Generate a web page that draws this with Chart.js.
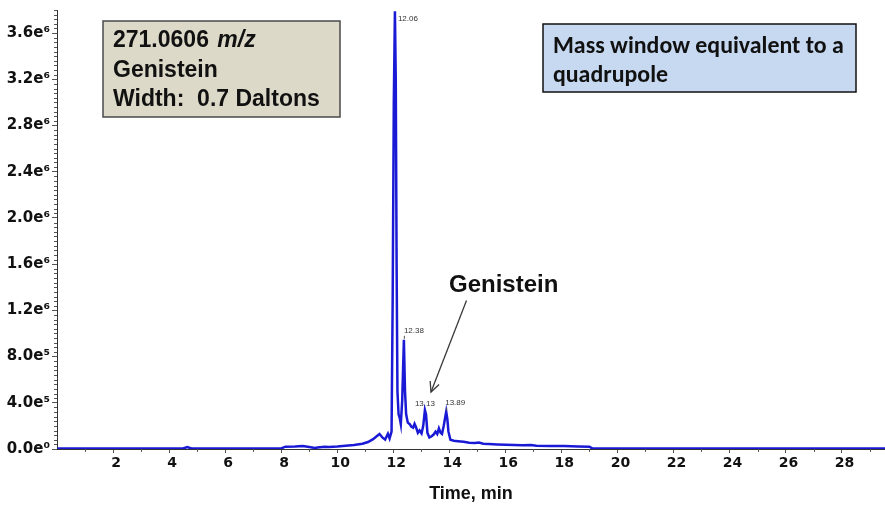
<!DOCTYPE html>
<html><head><meta charset="utf-8">
<script src="https://cdn.jsdelivr.net/npm/chart.js@4.4.1/dist/chart.umd.min.js"></script>
<style>html,body{margin:0;padding:0;background:#fff;}#wrap{width:885px;height:507px;}</style>
</head><body><div id="wrap"><canvas id="c" width="885" height="507"></canvas></div>
<script>
// ---- data ----
const timeMin = [0,1,2,3,4,4.5,4.65,4.8,5,6,7,8.0,8.15,8.5,8.77,9.0,9.2,9.3,9.55,9.7,10.0,10.3,10.6,10.9,11.1,11.28,11.41,11.51,11.62,11.71,11.81,11.87,11.94,11.98,12.02,12.06,12.09,12.12,12.15,12.19,12.23,12.27,12.32,12.38,12.42,12.46,12.52,12.59,12.64,12.71,12.76,12.81,12.88,12.94,13.01,13.07,13.13,13.17,13.22,13.29,13.37,13.44,13.51,13.57,13.63,13.69,13.74,13.8,13.89,13.93,13.97,14.04,14.16,14.31,14.51,14.71,14.91,15.06,15.21,15.41,15.71,16.01,16.31,16.61,16.91,17.11,17.6,18.1,18.6,19.0,19.1,20,22,24,26,28,29.55];
const intensity = [5000,5000,5000,5000,5000,5000,16000,5000,5000,5000,5000,5000,20000,22000,26000,18000,9000,12000,20000,18000,22000,28000,35000,45000,60000,85000,110000,130000,98000,82000,132000,92000,150000,1300000,3000000,3790000,3200000,1600000,500000,300000,270000,215000,420000,945000,500000,300000,228000,215000,195000,185000,218000,190000,140000,160000,135000,200000,337000,300000,140000,100000,110000,125000,150000,130000,178000,140000,130000,200000,323000,260000,150000,80000,72000,68000,62000,55000,52000,56000,46000,44000,40000,37000,35000,33000,34000,28000,26000,25000,22000,20000,5000,5000,5000,5000,5000,5000,5000];
const xTickValues = [2,4,6,8,10,12,14,16,18,20,22,24,26,28];
const xTickLabels = ['2','4','6','8','10','12','14','16','18','20','22','24','26','28'];
const yTickValues = [0,400000,800000,1200000,1600000,2000000,2400000,2800000,3200000,3600000];
const yTickLabels = ['0.0e\u2070','4.0e\u2075','8.0e\u2075','1.2e\u2076','1.6e\u2076','2.0e\u2076','2.4e\u2076','2.8e\u2076','3.2e\u2076','3.6e\u2076'];
const peakTimes = [12.06,12.38,13.13,13.89];
const peakValues = [3790000,945000,337000,323000];
const peakLabels = ['12.06','12.38','13.13','13.89'];
const xTitle = 'Time, min';
const infoLines = ['271.0606', 'Genistein', 'Width:  0.7 Daltons'];
const noteLines = ['Mass window equivalent to a', 'quadrupole'];
const calloutText = 'Genistein';

// label placement styles (pixel offsets relative to peak point)
const peakLabelStyle = [{dx:3,dy:8},{dx:0,dy:-9},{dx:-10,dy:-6},{dx:-1,dy:-9}];

const annotPlugin = {
  id: 'annot',
  afterDraw(chart) {
    const ctx = chart.ctx, xs = chart.scales.x, ys = chart.scales.y;
    const ca = chart.chartArea;
    ctx.save();
    // minor ticks
    ctx.strokeStyle = '#555'; ctx.lineWidth = 1;
    ctx.beginPath();
    for (let v = 0; v <= ys.max + 1; v += 40000) {
      if (Math.round(v) % 400000 === 0) continue;
      const y = Math.round(ys.getPixelForValue(v)) + 0.5;
      ctx.moveTo(ca.left - 3, y); ctx.lineTo(ca.left, y);
    }
    for (let t = 1; t < xs.max; t += 2) {
      const x = Math.round(xs.getPixelForValue(t)) + 0.5;
      ctx.moveTo(x, ca.bottom); ctx.lineTo(x, ca.bottom + 3);
    }
    ctx.stroke();

    // peak labels
    ctx.font = '8px "Liberation Sans", Arial, sans-serif';
    ctx.fillStyle = '#333'; ctx.textBaseline = 'middle'; ctx.textAlign = 'left';
    peakTimes.forEach((t, i) => {
      const px = xs.getPixelForValue(t), py = ys.getPixelForValue(peakValues[i]);
      const st = peakLabelStyle[i];
      ctx.fillText(peakLabels[i], px + st.dx, py + st.dy);
      if (i === 1 || i === 3) {
        ctx.beginPath(); ctx.moveTo(px + 0.5, py - 4); ctx.lineTo(px + 0.5, py - 1); ctx.stroke();
      }
    });

    // info box
    ctx.fillStyle = '#dcd9c8';
    ctx.fillRect(103, 21, 237, 96);
    ctx.strokeStyle = '#4a4a4a'; ctx.lineWidth = 1.5;
    ctx.strokeRect(103, 21, 237, 96);
    ctx.fillStyle = '#111'; ctx.textBaseline = 'alphabetic';
    ctx.font = 'bold 23px "Liberation Sans", Arimo, Arial, sans-serif';
    ctx.fillText(infoLines[0], 113, 47);
    const w0 = ctx.measureText(infoLines[0] + ' ').width;
    ctx.font = 'italic bold 23px "Liberation Sans", Arimo, Arial, sans-serif';
    ctx.fillText('m/z', 113 + w0 + 2, 47);
    ctx.font = 'bold 23px "Liberation Sans", Arimo, Arial, sans-serif';
    ctx.fillText(infoLines[1], 113, 76.5);
    ctx.fillText(infoLines[2], 113, 106);

    // note box
    ctx.fillStyle = '#c6d9f1';
    ctx.fillRect(543, 24, 313, 68);
    ctx.strokeStyle = '#111'; ctx.lineWidth = 1.5;
    ctx.strokeRect(543, 24, 313, 68);
    ctx.fillStyle = '#111';
    let fs = 20;
    ctx.font = 'bold ' + fs + 'px Carlito, Lato, "Open Sans", sans-serif';
    const mw = ctx.measureText(noteLines[0]).width;
    fs = fs * 291 / mw;
    ctx.font = 'bold ' + fs.toFixed(2) + 'px Carlito, Lato, "Open Sans", sans-serif';
    ctx.fillText(noteLines[0], 553, 53);
    ctx.fillText(noteLines[1], 553, 82);

    // callout
    ctx.font = 'bold 24px "Liberation Sans", Arimo, Arial, sans-serif';
    ctx.fillStyle = '#111';
    ctx.fillText(calloutText, 449, 292);
    const x1 = 466.5, y1 = 300.5, x2 = 431, y2 = 392;
    ctx.strokeStyle = '#3a3a3a'; ctx.lineWidth = 1.3;
    ctx.beginPath(); ctx.moveTo(x1, y1); ctx.lineTo(x2, y2); ctx.stroke();
    const ang = Math.atan2(y2 - y1, x2 - x1), L = 11, a = 0.45;
    ctx.beginPath();
    ctx.moveTo(x2 - L * Math.cos(ang - a), y2 - L * Math.sin(ang - a));
    ctx.lineTo(x2, y2);
    ctx.lineTo(x2 - L * Math.cos(ang + a), y2 - L * Math.sin(ang + a));
    ctx.stroke();
    ctx.restore();
  }
};

new Chart(document.getElementById('c'), {
  type: 'scatter',
  data: {
    datasets: [{
      data: timeMin.map((t, i) => ({x: t, y: intensity[i]})),
      showLine: true,
      borderColor: '#1a1ad6',
      borderWidth: 2.5,
      pointRadius: 0,
      tension: 0,
      fill: false
    }]
  },
  options: {
    responsive: false,
    animation: false,
    layout: {padding: {top: 10, left: 0, right: 0, bottom: 0}},
    plugins: {legend: {display: false}, tooltip: {enabled: false}},
    scales: {
      x: {
        type: 'linear', min: 0, max: 29.55,
        afterBuildTicks: s => { s.ticks = xTickValues.map(v => ({value: v})); },
        afterFit: s => { s.height = 58; s.paddingLeft = 0; s.paddingRight = 0; },
        ticks: {
          callback: (v, i) => xTickLabels[i],
          font: {family: '"DejaVu Sans"', weight: 'bold', size: 14},
          color: '#111', padding: 2, labelOffset: 3, maxRotation: 0, autoSkip: false
        },
        grid: {drawOnChartArea: false, tickLength: 4, color: '#555'},
        border: {color: '#333', width: 1},
        title: {
          display: true, text: xTitle, color: '#111',
          font: {family: '"Liberation Sans"', weight: 'bold', size: 18},
          padding: {top: 0, bottom: 2}
        }
      },
      y: {
        type: 'linear', min: 0, max: 3800000,
        afterBuildTicks: s => { s.ticks = yTickValues.map(v => ({value: v})); },
        afterFit: s => { s.width = 57; s.paddingTop = 0; s.paddingBottom = 0; },
        ticks: {
          callback: (v, i) => yTickLabels[i],
          font: {family: '"DejaVu Sans"', weight: 'bold', size: 15},
          color: '#111', padding: 2, autoSkip: false
        },
        grid: {drawOnChartArea: false, tickLength: 5, color: '#555'},
        border: {color: '#333', width: 1}
      }
    }
  },
  plugins: [annotPlugin]
});
</script>
</body></html>
